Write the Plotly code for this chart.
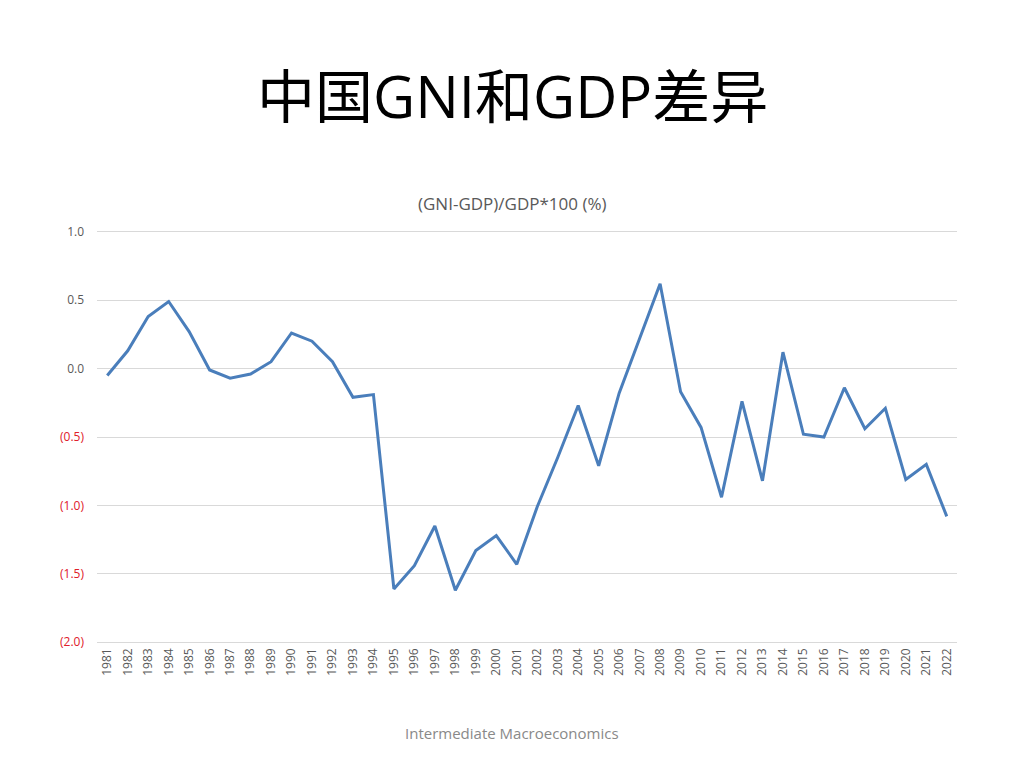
import plotly.graph_objects as go

years = [str(y) for y in range(1981, 2023)]
values = [-0.05, 0.13, 0.38, 0.49, 0.27, -0.01, -0.07, -0.04, 0.05, 0.26,
          0.20, 0.05, -0.21, -0.19, -1.61, -1.44, -1.15, -1.62, -1.33, -1.22,
          -1.43, -1.01, -0.65, -0.27, -0.71, -0.18, 0.22, 0.62, -0.17, -0.43,
          -0.94, -0.24, -0.82, 0.12, -0.48, -0.50, -0.14, -0.44, -0.29, -0.81,
          -0.70, -1.08]
y_tickvals = [1.0, 0.5, 0.0, -0.5, -1.0, -1.5, -2.0]
y_ticktext = ["1.0", "0.5", "0.0",
              "<span style='color:#E0202A'>(0.5)</span>",
              "<span style='color:#E0202A'>(1.0)</span>",
              "<span style='color:#E0202A'>(1.5)</span>",
              "<span style='color:#E0202A'>(2.0)</span>"]

fig = go.Figure()
fig.add_trace(go.Scatter(x=years, y=values, mode="lines",
                         line=dict(color="#4A7EBB", width=3), showlegend=False))

t, b = 229, 123
fig.update_layout(
    width=1024, height=768,
    paper_bgcolor="white", plot_bgcolor="white",
    margin=dict(l=97, r=67, t=t, b=b),
    font=dict(family="Open Sans, Noto Sans CJK SC", color="#595959"),
    xaxis=dict(type="category", tickangle=-90, tickfont=dict(size=12, color="#595959"),
               range=[-0.5, len(years) - 0.5],
               showgrid=False, showline=False, ticks="", ticklen=0, automargin=False),
    yaxis=dict(range=[-2.02, 1.02], tickvals=y_tickvals, ticktext=y_ticktext,
               tickfont=dict(size=12, color="#595959"), showgrid=True,
               gridcolor="#D9D9D9", gridwidth=1, zeroline=False, showline=False,
               ticks="", ticklabelstandoff=12, automargin=False),
    annotations=[
        dict(text="中国GNI和GDP差异", x=0.5, y=95, xref="paper", yref="paper",
             showarrow=False, font=dict(size=58, color="black",
                                        family="Open Sans, Noto Sans CJK SC")),
        dict(text="(GNI-GDP)/GDP*100 (%)", x=0.5, y=203, xref="paper", yref="paper",
             showarrow=False, font=dict(size=17, color="#595959")),
        dict(text="Intermediate Macroeconomics", x=0.5, y=733, xref="paper", yref="paper",
             showarrow=False, font=dict(size=15, color="#898989")),
    ],
)

# convert pixel y positions to paper coordinates for annotations
ph = 768 - t - b
for a in fig.layout.annotations:
    a.y = (768 - b - a.y) / ph
    a.yanchor = "middle"
    a.x = (512 - 97) / (1024 - 97 - 67)
    a.xanchor = "center"

fig.write_html("out.html", config={"displayModeBar": False},
               post_script="document.body.style.margin='0';")
